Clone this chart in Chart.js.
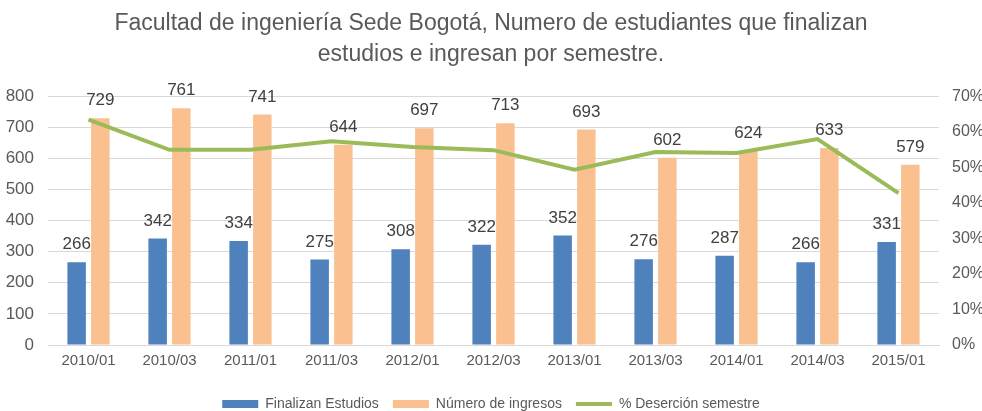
<!DOCTYPE html>
<html>
<head>
<meta charset="utf-8">
<script src="https://cdn.jsdelivr.net/npm/chart.js@4"></script>
<style>
  html, body { margin: 0; padding: 0; background: #fff; }
  #wrap { width: 982px; height: 411px; position: relative; }
</style>
</head>
<body>
<div id="wrap"><canvas id="chart"></canvas></div>
<script>
// data
const semesters = ['2010/01', '2010/03', '2011/01', '2011/03', '2012/01', '2012/03',
                   '2013/01', '2013/03', '2014/01', '2014/03', '2015/01'];
const finalizan = [266, 342, 334, 275, 308, 322, 352, 276, 287, 266, 331];
const ingresos = [729, 761, 741, 644, 697, 713, 693, 602, 624, 633, 579];
const desercion = [63.4, 54.9, 54.9, 57.3, 55.7, 54.8, 49.3, 54.3, 54.0, 57.9, 42.7];
const leftTicks = [0, 100, 200, 300, 400, 500, 600, 700, 800];
const rightTicks = [0, 10, 20, 30, 40, 50, 60, 70];

const FONT = "'Liberation Sans Narrow', 'Arial Narrow', 'Liberation Sans', sans-serif";
const GREY = '#595959';

// value labels above the bars
const barLabels = {
    id: 'barLabels',
    afterDatasetsDraw(chart) {
        const ctx = chart.ctx;
        ctx.save();
        ctx.font = '17px ' + FONT;
        ctx.fillStyle = '#404040';
        ctx.textAlign = 'center';
        ctx.textBaseline = 'bottom';
        chart.data.datasets.forEach((ds, i) => {
            if (ds.type !== 'bar') return;
            chart.getDatasetMeta(i).data.forEach((bar, j) => {
                ctx.fillText(ds.data[j], bar.x, bar.y - 9);
            });
        });
        ctx.restore();
    }
};

new Chart(document.getElementById('chart'), {
    data: {
        labels: semesters,
        datasets: [{
            type: 'bar',
            label: 'Finalizan Estudios',
            data: finalizan,
            backgroundColor: '#4F81BD',
            yAxisID: 'y',
            order: 2,
            categoryPercentage: 0.585,
            barPercentage: 0.78
        }, {
            type: 'bar',
            label: 'Número de ingresos',
            data: ingresos,
            backgroundColor: '#FAC090',
            yAxisID: 'y',
            order: 2,
            categoryPercentage: 0.585,
            barPercentage: 0.78
        }, {
            type: 'line',
            label: '% Deserción semestre',
            data: desercion,
            borderColor: '#9BBB59',
            backgroundColor: '#9BBB59',
            borderWidth: 4,
            pointRadius: 0,
            tension: 0,
            yAxisID: 'y1',
            order: 1
        }]
    },
    options: {
        responsive: true,
        maintainAspectRatio: false,
        animation: false,
        layout: { padding: { left: 0, right: 0, top: 6, bottom: -10 } },
        plugins: {
            title: {
                display: true,
                text: ['Facultad de ingeniería Sede Bogotá, Numero de estudiantes que finalizan',
                       'estudios e ingresan por semestre.'],
                color: GREY,
                font: { family: FONT, size: 23, weight: 'normal', lineHeight: 1.35 },
                padding: { top: 2, bottom: 26 }
            },
            legend: {
                position: 'bottom',
                labels: {
                    color: GREY,
                    font: { family: FONT, size: 14 },
                    usePointStyle: true,
                    pointStyleWidth: 36,
                    boxHeight: 8,
                    padding: 14,
                    sort: (a, b) => a.datasetIndex - b.datasetIndex,
                    generateLabels(chart) {
                        const items = Chart.defaults.plugins.legend.labels.generateLabels(chart);
                        items.forEach(it => {
                            it.pointStyle = chart.data.datasets[it.datasetIndex].type === 'line' ? 'line' : 'rect';
                        });
                        return items;
                    }
                }
            },
            tooltip: { enabled: false }
        },
        scales: {
            x: {
                grid: { display: false, drawTicks: false },
                border: { color: '#d9d9d9' },
                ticks: { color: GREY, font: { family: FONT, size: 15 }, padding: 7, maxRotation: 0 },
                afterFit(scale) { scale.height = 38; }
            },
            y: {
                position: 'left',
                min: 0,
                max: 800,
                afterBuildTicks(scale) { scale.ticks = leftTicks.map(v => ({ value: v })); },
                afterFit(scale) { scale.width = 48; },
                grid: { color: '#d9d9d9', drawTicks: false },
                border: { display: false },
                ticks: { color: GREY, font: { family: FONT, size: 17 }, padding: 14 }
            },
            y1: {
                position: 'right',
                min: 0,
                max: 70,
                afterBuildTicks(scale) { scale.ticks = rightTicks.map(v => ({ value: v })); },
                afterFit(scale) { scale.width = 43; },
                grid: { display: false, drawTicks: false },
                border: { display: false },
                ticks: {
                    color: GREY,
                    font: { family: FONT, size: 16 },
                    padding: 13,
                    callback: v => v + '%'
                }
            }
        }
    },
    plugins: [barLabels]
});
</script>
</body>
</html>
